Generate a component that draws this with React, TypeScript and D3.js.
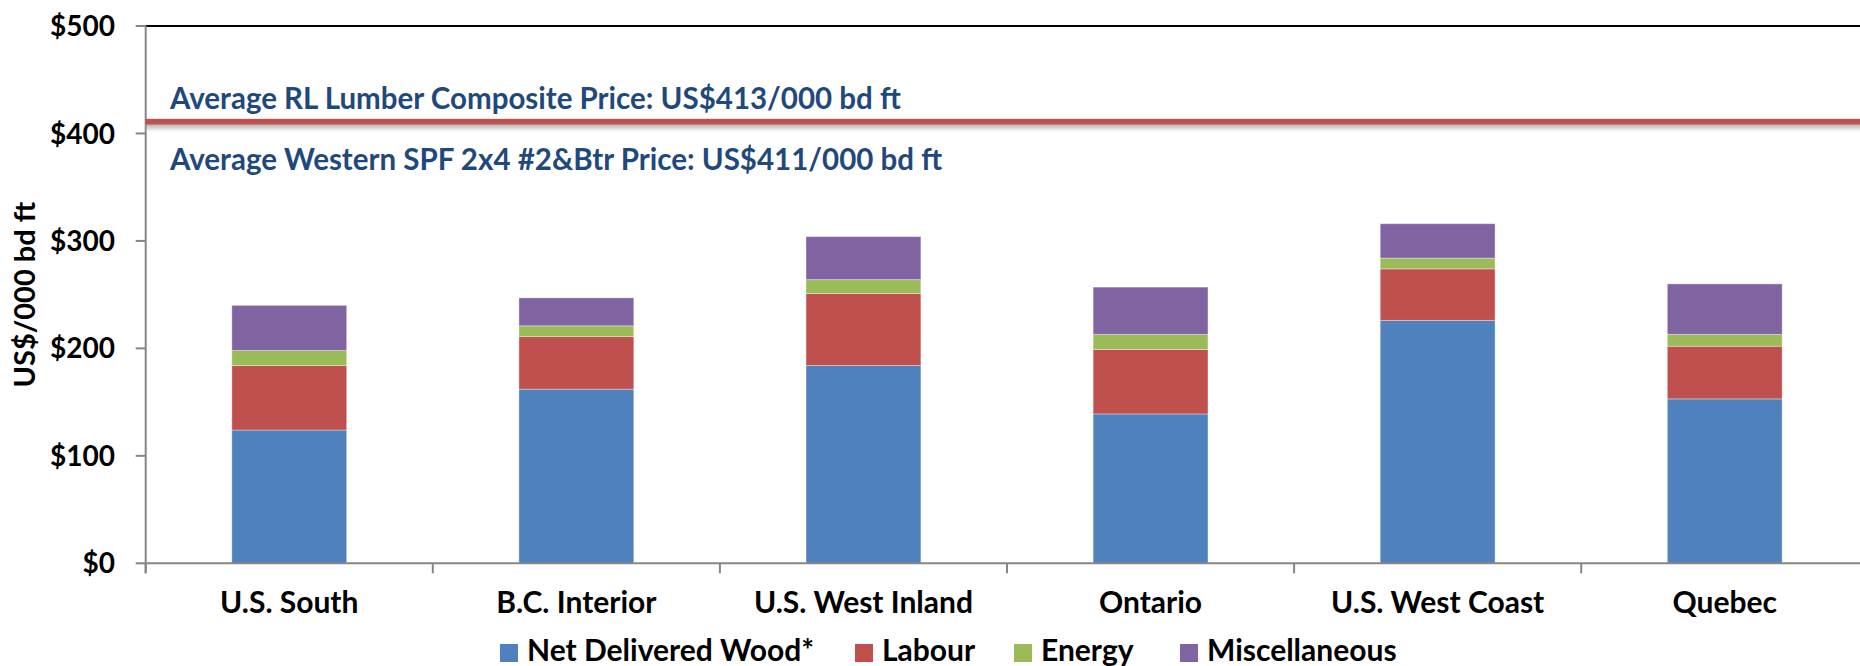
import React from 'react';
import * as d3 from 'd3';

const categories = ['U.S. South', 'B.C. Interior', 'U.S. West Inland', 'Ontario', 'U.S. West Coast', 'Quebec'];
const seriesNames = ['Net Delivered Wood*', 'Labour', 'Energy', 'Miscellaneous'];
const netDeliveredWood = [124, 162, 184, 139, 226, 153];
const labour = [60, 49, 67, 60, 48, 49];
const energy = [14, 10, 13, 14, 10, 11];
const miscellaneous = [42, 26, 40, 44, 32, 47];
const yTicks = [0, 100, 200, 300, 400, 500];
const seriesColors = ['#4F81BD', '#C0504D', '#9BBB59', '#8064A2'];
const rlCompositePrice = 413;
const spfPrice = 411;
const annotationLines = [
  `Average RL Lumber Composite Price: US$${rlCompositePrice}/000 bd ft`,
  `Average Western SPF 2x4 #2&Btr Price: US$${spfPrice}/000 bd ft`,
];

const W = 1860;
const H = 666;
const FONT = "Lato, 'Open Sans', sans-serif";

export default function App() {
  const left = 145.7;
  const right = 1868.3;
  const top = 26;
  const bottom = 563.3;

  const x = d3.scaleBand<string>().domain(categories).range([left, right]).paddingInner(0.6).paddingOuter(0.3);
  const y = d3.scaleLinear().domain([0, 500]).range([bottom, top]);

  const rows = categories.map((c, i) => ({
    category: c,
    s0: netDeliveredWood[i],
    s1: labour[i],
    s2: energy[i],
    s3: miscellaneous[i],
  }));
  const keys = ['s0', 's1', 's2', 's3'];
  const stacked = d3.stack<any>().keys(keys)(rows);

  const step = x.step();
  const boundaries = d3.range(categories.length + 1).map((i) => left + i * step);

  const legendX = [500, 855, 1014, 1180];
  const lineY = y(spfPrice);
  const lineW = 5.6;

  return (
    <svg width={W} height={H} style={{ position: 'absolute', left: 0, top: 0, background: '#fff' }}>
      <defs>
        <linearGradient id="shadowGrad" x1="0" y1="0" x2="0" y2="1">
          <stop offset="0" stopColor="#8c8c8c" stopOpacity={0.75} />
          <stop offset="0.5" stopColor="#b0b0b0" stopOpacity={0.45} />
          <stop offset="1" stopColor="#ffffff" stopOpacity={0} />
        </linearGradient>
      </defs>
      <rect x={0} y={0} width={W} height={H} fill="#fff" />

      {/* top border */}
      <line x1={left} x2={W} y1={top} y2={top} stroke="#000" strokeWidth={2} />

      {/* bars */}
      {stacked.map((layer, si) => (
        <g key={si}>
          {layer.map((d, i) => (
            <rect
              key={i}
              x={x(categories[i])}
              width={x.bandwidth()}
              y={y(d[1])}
              height={y(d[0]) - y(d[1])}
              fill={seriesColors[si]}
              stroke="#ffffff"
              strokeOpacity={0.35}
              strokeWidth={1}
            />
          ))}
        </g>
      ))}

      {/* y axis */}
      <line x1={left} x2={left} y1={top} y2={bottom + 10} stroke="#868686" strokeWidth={2} />
      {yTicks.map((t) => (
        <g key={t}>
          <line x1={left - 10} x2={left} y1={y(t)} y2={y(t)} stroke="#868686" strokeWidth={2} />
          <text
            x={115}
            y={y(t)}
            dy="0.36em"
            textAnchor="end"
            fontFamily={FONT}
            fontWeight={700}
            fontSize={28}
            fill="#000"
          >
            {d3.format('$,.0f')(t)}
          </text>
        </g>
      ))}

      {/* x axis */}
      <line x1={left} x2={W} y1={bottom} y2={bottom} stroke="#868686" strokeWidth={2} />
      {boundaries.map((bx, i) => (
        <line key={i} x1={bx} x2={bx} y1={bottom} y2={bottom + 10} stroke="#868686" strokeWidth={2} />
      ))}
      {categories.map((c) => (
        <text
          key={c}
          x={(x(c) as number) + x.bandwidth() / 2}
          y={613}
          textAnchor="middle"
          fontFamily={FONT}
          fontWeight={700}
          fontSize={30}
          fill="#000"
        >
          {c}
        </text>
      ))}

      {/* y axis title */}
      <text
        transform={`translate(35, ${(top + bottom) / 2}) rotate(-90)`}
        textAnchor="middle"
        fontFamily={FONT}
        fontWeight={700}
        fontSize={29}
        fill="#000"
      >
        US$/000 bd ft
      </text>

      {/* price line with shadow */}
      <rect x={left} y={lineY + lineW / 2 - 1} width={W - left} height={10} fill="url(#shadowGrad)" />
      <rect x={left} y={lineY - lineW / 2} width={W - left} height={lineW} fill="#C0504D" />

      {/* annotations */}
      {annotationLines.map((t, i) => (
        <text
          key={i}
          x={170}
          y={i === 0 ? 109.3 : 170}
          fontFamily={FONT}
          fontWeight={700}
          fontSize={29.5}
          fill="#1F497D"
        >
          {t}
        </text>
      ))}

      {/* legend */}
      {seriesNames.map((n, i) => (
        <g key={n}>
          <rect x={legendX[i]} y={644} width={18} height={18} fill={seriesColors[i]} />
          <text
            x={legendX[i] + 27}
            y={661}
            fontFamily={FONT}
            fontWeight={700}
            fontSize={30}
            fill="#000"
          >
            {n}
          </text>
        </g>
      ))}
    </svg>
  );
}
